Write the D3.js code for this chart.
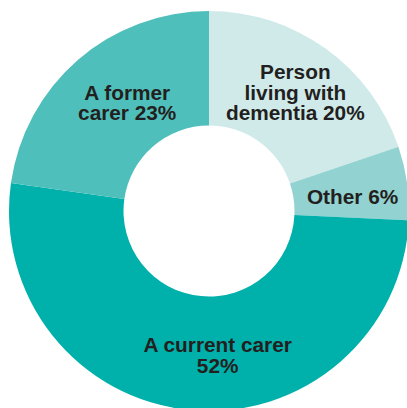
<!DOCTYPE html>
<html>
<head>
<meta charset="utf-8">
<script src="https://cdn.jsdelivr.net/npm/d3@7"></script>
<style>
  html, body { margin: 0; padding: 0; background: #fff; }
  svg { display: block; }
</style>
</head>
<body>
<svg id="chart"></svg>
<script>
// respondents, clockwise from 12 o'clock
const categories = ["Person living with dementia", "Other", "A current carer", "A former carer"];
const values = [20, 6, 52, 23];
const labelLines = [
  ["Person", "living with", "dementia 20%"],
  ["Other 6%"],
  ["A current carer", "52%"],
  ["A former", "carer 23%"]
];
const colors = ["#d0eaea", "#92d2d0", "#00b0aa", "#4ebfbb"];

const width = 407; // pixels
const height = 408; // pixels
const cx = 209, cy = 211;
const outerR = 200, innerR = 85.5;
const labelR = 143;
const lineH = 20.5;
// small hand nudges so labels sit where the original put them
const nudge = [[3, -2], [2, 6], [22, 2], [12, 0]];

const svg = d3.select("#chart")
  .attr("width", width)
  .attr("height", height);

const pie = d3.pie().sort(null).value(d => d.value);
const arcs = pie(categories.map((c, i) => ({name: c, value: values[i], i})));

const arc = d3.arc().innerRadius(innerR).outerRadius(outerR);
const labelArc = d3.arc().innerRadius(labelR).outerRadius(labelR);

const g = svg.append("g").attr("transform", `translate(${cx},${cy})`);

g.selectAll("path")
  .data(arcs)
  .join("path")
  .attr("fill", d => colors[d.data.i])
  .attr("d", arc);

const labels = g.selectAll("text")
  .data(arcs)
  .join("text")
  .attr("text-anchor", "middle")
  .attr("font-family", "'Liberation Sans', Arial, sans-serif")
  .attr("font-weight", "bold")
  .attr("font-size", 20.8)
  .attr("fill", "#231f20")
  .attr("transform", d => {
    const [x, y] = labelArc.centroid(d);
    const [nx, ny] = nudge[d.data.i];
    return `translate(${x + nx},${y + ny})`;
  });

labels.selectAll("tspan")
  .data(d => {
    const lines = labelLines[d.data.i];
    return lines.map((t, k) => ({t, k, n: lines.length}));
  })
  .join("tspan")
  .attr("x", 0)
  .attr("y", d => (d.k - (d.n - 1) / 2) * lineH + 7)
  .text(d => d.t);
</script>
</body>
</html>
